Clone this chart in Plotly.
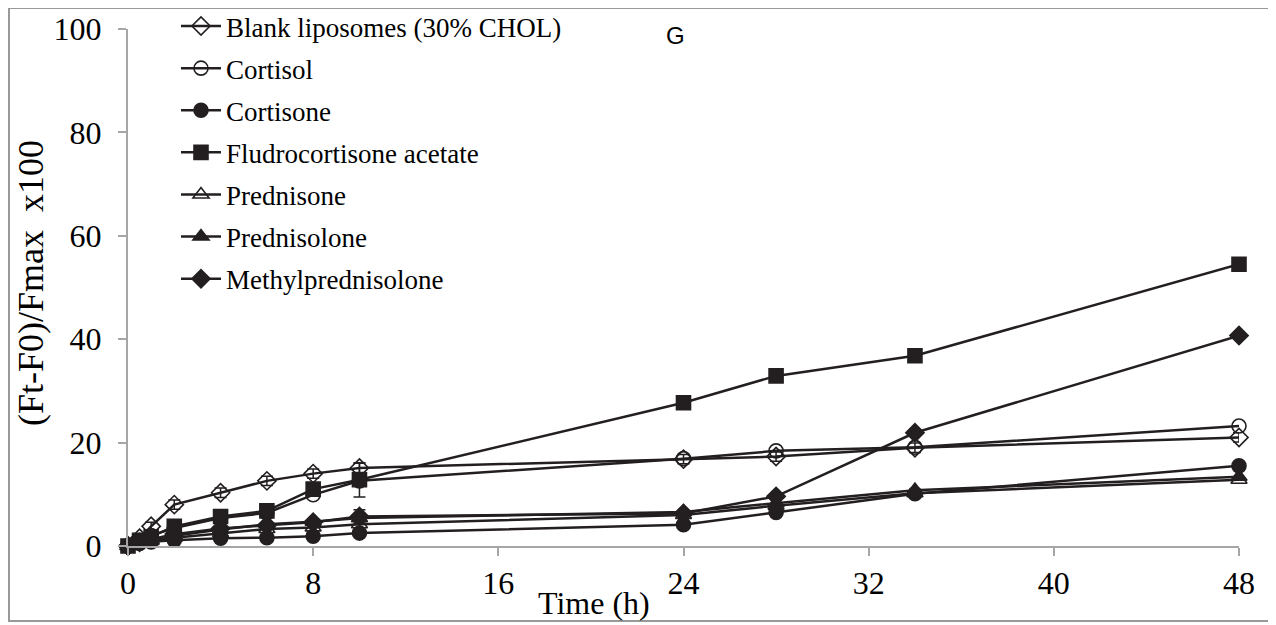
import plotly.graph_objects as go

time_h = [0, 0.5, 1, 2, 4, 6, 8, 10, 24, 28, 34, 48]

blank = [0, 1.5, 3.8, 8.0, 10.3, 12.6, 14.0, 15.1, 16.8, 17.3, 19.0, 21.0]
cortisol = [0, 1.0, 2.0, 3.5, 5.4, 6.4, 9.9, 12.6, 16.9, 18.4, 19.1, 23.2]
cortisone = [0, 0.5, 0.8, 1.1, 1.5, 1.6, 1.9, 2.5, 4.1, 6.5, 10.1, 15.5]
fludro = [0, 1.1, 1.8, 3.8, 5.7, 6.8, 11.0, 12.8, 27.7, 32.9, 36.8, 54.5]
prednisone = [0, 0.5, 1.0, 1.6, 2.5, 3.3, 3.6, 4.2, 6.0, 7.8, 10.2, 12.8]
prednisolone = [0, 0.8, 1.2, 2.0, 3.2, 4.2, 4.7, 5.4, 6.6, 8.3, 10.8, 13.4]
methylpred = [0, 0.7, 1.3, 2.3, 3.4, 4.0, 4.6, 5.7, 6.3, 9.6, 21.9, 40.7]

blank_err = [0, 0.5, 0.8, 0.9, 0.9, 0.9, 0.9, 0.9, 0.9, 0.9, 0.9, 0.9]
fludro_err = [0, 0, 0, 0, 0, 0, 0, 3.3, 0, 0, 0, 0]
methylpred_err = [0, 0, 0, 0, 0, 0, 0, 1.3, 0, 0, 0, 0]

series = [
    ("Blank liposomes (30% CHOL)", blank, "diamond-open", blank_err),
    ("Cortisol", cortisol, "circle-open", None),
    ("Cortisone", cortisone, "circle", None),
    ("Fludrocortisone acetate", fludro, "square", fludro_err),
    ("Prednisone", prednisone, "triangle-up-open", None),
    ("Prednisolone", prednisolone, "triangle-up", None),
    ("Methylprednisolone", methylpred, "diamond", methylpred_err),
]

ink = "#231f20"
axis_grey = "#a6a6a6"
serif = "Liberation Serif"

fig = go.Figure()
for i, (name, vals, sym, err) in enumerate(series):
    err_y = None
    if err is not None:
        err_y = dict(type="data", array=err, visible=True, color=ink, thickness=1.5, width=6)
    fig.add_trace(go.Scatter(
        x=time_h, y=vals, name=name, mode="lines+markers",
        line=dict(color=ink, width=2.5),
        marker=dict(symbol=sym, size=14, color=ink, line=dict(color=ink, width=1.6)),
        error_y=err_y, legendgroup=f"g{i}", cliponaxis=False,
    ))

# page has an 8px body margin, so figure coords = page coords - 8
l, t = 120, 21
pw, ph = 1111, 517
bottom = t + ph


def px(x):
    return (x - l) / pw


def py(y):
    return (bottom - y) / ph


def label(text, x, y, size, angle=0, family=serif):
    return dict(text=text, x=px(x), y=py(y), xref="paper", yref="paper",
                xanchor="center", yanchor="middle", textangle=angle,
                showarrow=False, font=dict(family=family, size=size))


fig.update_layout(
    width=1276, height=625,
    margin=dict(l=l, r=1276 - l - pw, t=t, b=625 - bottom, autoexpand=False),
    plot_bgcolor="white", paper_bgcolor="white",
    font=dict(family=serif, size=32, color="black"),
    showlegend=True,
    legend=dict(x=px(168), y=py(-6), xanchor="left", yanchor="top",
                traceorder="grouped", tracegroupgap=4, maxheight=1000,
                font=dict(family=serif, size=27, color="black"),
                bgcolor="rgba(0,0,0,0)", itemwidth=40),
    xaxis=dict(range=[0, 48], tickvals=[0, 8, 16, 24, 32, 40, 48], showgrid=False,
               zeroline=False, showline=True, linecolor=axis_grey, linewidth=2,
               ticks="outside", ticklen=8, tickcolor=axis_grey, tickwidth=2,
               tickfont=dict(size=32)),
    yaxis=dict(range=[0, 100], tickvals=[0, 20, 40, 60, 80, 100], showgrid=False,
               zeroline=False, showline=True, linecolor=axis_grey, linewidth=2,
               ticks="outside", ticklen=8, tickcolor=axis_grey, tickwidth=2,
               tickfont=dict(size=32), ticklabelstandoff=10),
    annotations=[
        label("Time (h)", 586, 595, 32),
        label("(Ft-F0)/Fmax&nbsp;&nbsp;x100", 23, 275, 36, angle=-90),
        label("G", 667, 27, 24, family="Liberation Sans"),
    ],
    shapes=[dict(type="rect", xref="paper", yref="paper",
                 x0=px(1), x1=px(1264), y0=py(613), y1=py(0),
                 line=dict(color="#999999", width=2))],
)

fig.write_html("out.html")
